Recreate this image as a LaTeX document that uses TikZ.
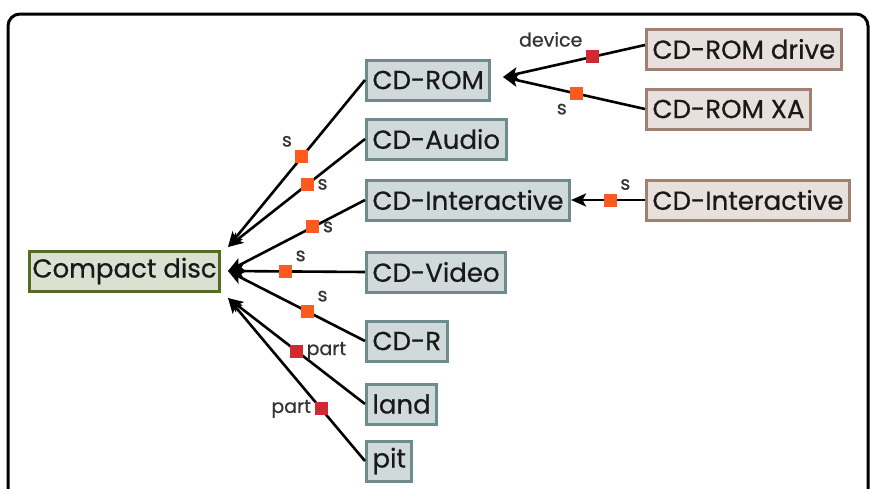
\documentclass[tikz,border=0pt]{standalone}
\usepackage{fontspec}
\setmainfont{Poppins}[BoldFont=Poppins,BoldFeatures={FakeBold=0.6}]
\usetikzlibrary{arrows.meta,calc}
\definecolor{sOrange}{RGB}{255,90,30}
\definecolor{pRed}{RGB}{210,40,50}
\definecolor{greyLine}{RGB}{110,140,140}
\definecolor{greyFill}{RGB}{208,218,218}
\definecolor{brownLine}{RGB}{160,128,112}
\definecolor{brownFill}{RGB}{232,224,220}
\definecolor{oliveLine}{RGB}{85,107,31}
\definecolor{oliveFill}{RGB}{220,224,208}

\begin{document}
\begin{tikzpicture}[x=1pt,y=-1pt,
	box/.style={draw,line width=3pt,anchor=west,inner xsep=6pt,minimum height=40pt,font=\fontsize{26}{30}\selectfont\bfseries,text=black!90},
	sub/.style={box,draw=greyLine,fill=greyFill},
	ext/.style={box,draw=brownLine,fill=brownFill},
	root/.style={box,inner xsep=3pt,draw=oliveLine,fill=oliveFill},
	link/.style={line width=2.6pt,-{Stealth[length=15pt,width=13pt,inset=3.5pt]}},
	sq/.style={rectangle,minimum size=13pt,inner sep=0pt},
	isa/.style={sq,fill=sOrange},
	has/.style={sq,fill=pRed},
	lbl/.style={font=\fontsize{19}{21}\selectfont\bfseries,text=black!80,inner sep=1pt}]
\useasboundingbox (0,0) rectangle (870,488);
\clip (0,0) rectangle (870,488);
\draw[line width=3pt,rounded corners=12pt] (8,14) rectangle (868,540);

\node[root] (cd) at (28,271) {Compact disc};

\node[sub] (rom) at (365,80) {CD-ROM};
\node[sub] (audio) at (365,139) {CD-Audio};
\node[sub] (inter) at (365,200) {CD-Interactive};
\node[sub] (video) at (365,272) {CD-Video};
\node[sub] (cdr) at (365,341) {CD-R};
\node[sub] (land) at (365,404) {land};
\node[sub] (pit) at (365,461) {pit};

\node[ext] (drive) at (645,49) {CD-ROM drive};
\node[ext] (xa) at (645,109) {CD-ROM XA};
\node[ext] (inter2) at (645,200) {CD-Interactive};

% arrow ends
\coordinate (cdUp) at (228,247);
\coordinate (cdMid) at (228,271);
\coordinate (cdLow) at (228,298);
\coordinate (romIn) at (503,77);

\draw[link] (rom.west) -- (cdUp) node[isa,pos=0.46,label={[lbl]above left:s}] {};
\draw[link] (audio.west) -- (cdUp) node[isa,pos=0.42,label={[lbl]right:s}] {};
\draw[link] (inter.west) -- (cdMid) node[isa,pos=0.38,label={[lbl]right:s}] {};
\draw[link] (video.west) -- (cdMid) node[isa,pos=0.58,label={[lbl]above right:s}] {};
\draw[link] (cdr.west) -- (cdMid) node[isa,pos=0.42,label={[lbl]above right:s}] {};
\draw[link] (land.west) -- (cdLow) node[has,pos=0.5,label={[lbl]right:part}] {};
\draw[link] (pit.west) -- (cdLow) node[has,pos=0.32,label={[lbl]left:part}] {};

\draw[link] ($(drive.west)+(0,-4)$) -- (romIn) node[has,pos=0.37,label={[lbl]above left:device}] {};
\draw[link] (xa.west) -- (romIn) node[isa,pos=0.48,label={[lbl]below left:s}] {};
\draw[link] (inter2.west) -- (inter.east) node[isa,pos=0.47,label={[lbl]above right:s}] {};
\end{tikzpicture}
\end{document}
